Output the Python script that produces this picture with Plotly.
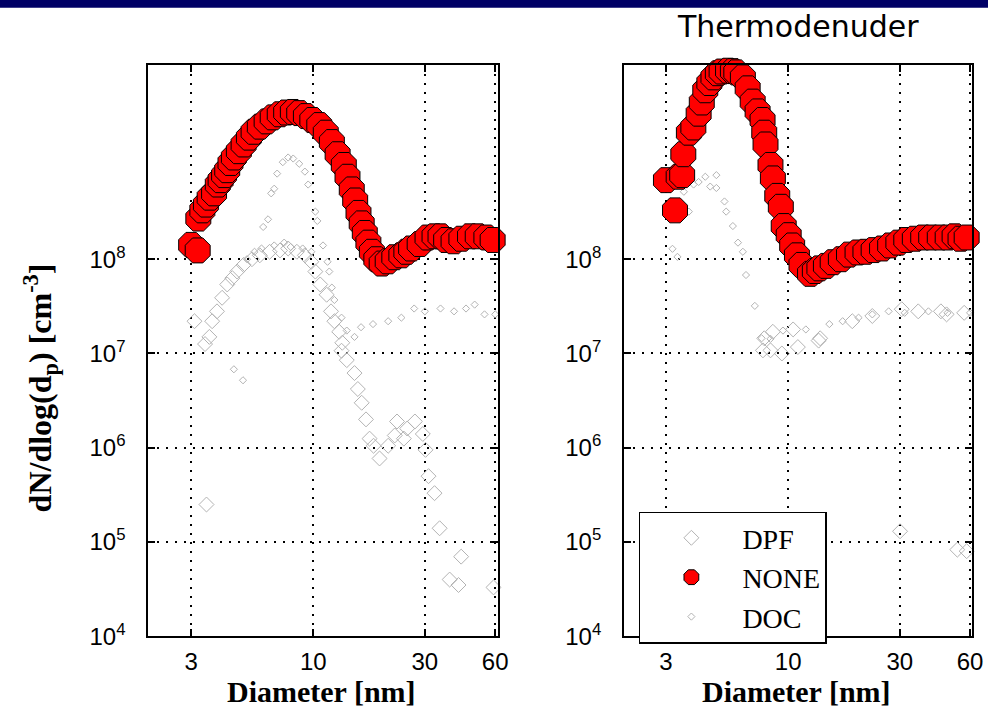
import plotly.graph_objects as go

# ---------------- data ----------------
# Left panel
L_none_d = [3.0, 3.2, 3.22, 3.35, 3.47, 3.6, 3.76, 3.9, 4.01, 4.15, 4.28, 4.42, 4.57, 4.8, 5.03, 5.3, 5.55,
            5.9, 6.31, 6.7, 7.18, 7.65, 8.17, 8.7, 9.29, 9.9, 10.6, 11.3, 12.0, 12.7, 13.5, 14.0, 14.6, 15.1,
            15.6, 16.1, 16.6, 17.2, 17.8, 18.6, 19.6, 20.8, 22.2, 23.8, 25.0, 26.2, 28.5, 30.8, 33.0, 35.0,
            37.0, 39.8, 43.0, 46.8, 50.5, 55.0, 58.5, 62.0]
L_none_n = [1.42e8, 1.24e8, 2.7e8, 3.3e8, 3.8e8, 4.5e8, 5.0e8, 6.2e8, 6.9e8, 7.8e8, 8.8e8, 1.05e9, 1.2e9, 1.4e9,
            1.65e9, 1.95e9, 2.25e9, 2.55e9, 2.9e9, 3.2e9, 3.45e9, 3.6e9, 3.65e9, 3.55e9, 3.3e9, 3.0e9, 2.65e9,
            2.2e9, 1.75e9, 1.3e9, 1.0e9, 7.5e8, 5.5e8, 4.2e8, 3.1e8, 2.4e8, 1.9e8, 1.5e8, 1.2e8, 1.0e8, 9.0e7,
            9.5e7, 1.05e8, 1.1e8, 1.2e8, 1.3e8, 1.45e8, 1.7e8, 1.75e8, 1.75e8, 1.6e8, 1.55e8, 1.65e8, 1.75e8,
            1.75e8, 1.7e8, 1.6e8, 1.55e8]

L_dpf_d = [3.1, 3.59, 3.44, 3.69, 3.87, 4.07, 4.28, 4.5, 4.72, 5.03, 5.46, 5.9, 6.5, 7.2, 7.8, 8.5, 9.2, 9.8,
           10.2, 10.7, 11.4, 11.9, 12.3, 12.9, 13.3, 13.2, 13.9, 15.0, 15.5, 16.1, 16.8, 17.4, 18.1, 19.2,
           20.9, 22.3, 22.8, 24.4, 25.2, 27.2, 29.4, 30.2, 31.1, 33.0, 34.7, 38.3, 41.8, 42.9, 59.0, 62.0, 3.49]
L_dpf_n = [2.2e7, 1.5e7, 1.26e7, 2.2e7, 2.8e7, 3.9e7, 5.4e7, 6.3e7, 7.4e7, 8.7e7, 1.0e8, 1.1e8, 1.2e8, 1.24e8,
           1.3e8, 1.2e8, 1.1e8, 9.4e7, 7.4e7, 5.4e7, 4.2e7, 2.8e7, 2.2e7, 1.7e7, 1.3e7, 1.07e7, 8.5e6, 6.2e6,
           4.2e6, 3.0e6, 2.0e6, 1.25e6, 1.05e6, 7.7e5, 1.05e6, 1.35e6, 1.9e6, 1.25e6, 1.6e6, 1.9e6, 1.4e6,
           9.5e5, 5.0e5, 3.3e5, 1.4e5, 4.0e4, 3.5e4, 7.0e4, 3.3e4, 3.0e4, 2.5e5]

L_doc_d = [4.57, 5.0, 5.2, 5.6, 6.0, 6.8, 7.5, 8.0, 9.0, 9.8, 6.1, 6.4, 6.6, 6.8, 7.0, 7.4, 7.8, 8.2, 8.7, 9.2,
           9.5, 10.2, 10.4, 11.0, 11.5, 11.7, 12.0, 12.3, 13.2, 13.9, 15.0, 16.0, 18.0, 20.9, 23.8, 27.0,
           30.0, 35.0, 40.0, 45.0, 49.0, 54.0, 60.0]
L_doc_n = [6.8e6, 5.2e6, 1.0e8, 1.2e8, 1.3e8, 1.4e8, 1.5e8, 1.35e8, 1.3e8, 1.2e8, 2.2e8, 2.65e8, 5.0e8, 5.6e8,
           8.1e8, 1.07e9, 1.2e9, 1.17e9, 1.03e9, 8.5e8, 6.2e8, 3.2e8, 2.55e8, 1.4e8, 9.4e7, 7.4e7, 5.0e7,
           3.7e7, 2.4e7, 1.75e7, 1.5e7, 1.9e7, 2.05e7, 2.2e7, 2.4e7, 3.0e7, 2.8e7, 3.0e7, 2.8e7, 3.0e7,
           3.3e7, 2.6e7, 2.6e7]

# Right panel (Thermodenuder)
R_none_d = [3.0, 3.28, 3.4, 3.52, 3.56, 3.76, 3.93, 4.14, 4.27, 4.42, 4.6, 4.79, 5.0, 5.19, 5.53, 5.8, 6.0,
            6.4, 6.71, 7.05, 7.4, 7.77, 7.9, 8.0, 8.4, 8.6, 8.98, 9.3, 9.57, 10.05, 10.4, 10.9, 11.4, 12.4,
            13.0, 13.6, 14.5, 15.5, 16.8, 18.2, 19.8, 21.4, 23.2, 25.2, 27.3, 29.6, 32.0, 34.8, 37.8, 40.9,
            44.5, 48.1, 51.5, 54.6, 58.0, 62.2]
R_none_n = [6.9e8, 3.3e8, 7.5e8, 7.8e8, 1.3e9, 2.2e9, 2.5e9, 3.5e9, 4.6e9, 6.2e9, 7.4e9, 8.5e9, 9.4e9, 9.8e9,
            1.0e10, 9.9e9, 9.6e9, 8.5e9, 6.5e9, 4.7e9, 3.7e9, 3.0e9, 2.2e9, 1.65e9, 1.0e9, 7.2e8, 4.7e8, 3.6e8,
            2.25e8, 1.8e8, 1.4e8, 1.1e8, 8.7e7, 7.0e7, 7.5e7, 8.0e7, 8.5e7, 9.3e7, 1.0e8, 1.12e8, 1.18e8,
            1.2e8, 1.25e8, 1.3e8, 1.4e8, 1.5e8, 1.6e8, 1.65e8, 1.7e8, 1.7e8, 1.7e8, 1.7e8, 1.75e8, 1.65e8,
            1.7e8, 1.5e8]

R_dpf_d = [7.8, 8.4, 9.4, 11.0, 13.5, 7.9, 8.6, 10.5, 13.7, 18.8, 22.9, 30.6, 36.0, 45.0, 47.6, 56.6,
           30.1, 52.9, 58.0]
R_dpf_n = [1.08e7, 1.08e7, 1.0e7, 1.17e7, 1.37e7, 1.45e7, 1.7e7, 1.8e7, 1.45e7, 2.2e7, 2.5e7, 2.95e7, 2.8e7,
           2.8e7, 2.6e7, 2.7e7, 1.3e5, 8.3e4, 8.0e4]

R_doc_d = [3.2, 3.36, 3.47, 3.76, 3.58, 3.94, 4.14, 4.42, 4.64, 4.93, 4.93, 5.34, 5.43, 5.8, 6.1, 6.4, 6.6,
           7.2, 7.7, 8.4, 9.5, 11.9, 15.0, 17.1, 20.0, 22.9, 26.9, 31.5, 39.8, 48.0, 60.0]
R_doc_n = [1.29e8, 1.06e8, 3.4e8, 3.2e8, 5.2e8, 6.2e8, 6.6e8, 7.5e8, 5.9e8, 7.8e8, 5.7e8, 4.1e8, 3.2e8, 2.25e8,
           1.5e8, 1.2e8, 6.8e7, 3.2e7, 1.45e7, 1.43e7, 1.75e7, 1.8e7, 2.05e7, 2.2e7, 2.4e7, 2.6e7, 2.8e7,
           2.7e7, 2.8e7, 2.7e7, 2.7e7]

x_tick_vals = [3, 10, 30, 60]
x_tick_text = ["3", "10", "30", "60"]
y_tick_vals = [1e4, 1e5, 1e6, 1e7, 1e8]
y_tick_text = ["10<sup>4</sup>", "10<sup>5</sup>", "10<sup>6</sup>", "10<sup>7</sup>", "10<sup>8</sup>"]

# ---------------- styles ----------------
GRAY = "rgb(179,179,179)"
RED = "#ff0000"
SERIF = "Liberation Serif, Times New Roman"
SANS = "Liberation Sans, Arial"

fig = go.Figure()

def add_panel(xa, ya, dpf, none, doc, show):
    fig.add_trace(go.Scatter(x=dpf[0], y=dpf[1], mode="markers", name="DPF", legendrank=1,
                             xaxis=xa, yaxis=ya, showlegend=show, cliponaxis=False,
                             marker=dict(symbol="diamond-open", size=11.5, color=GRAY,
                                         line=dict(color=GRAY, width=1))))
    fig.add_trace(go.Scatter(x=doc[0], y=doc[1], mode="markers", name="DOC", legendrank=3,
                             xaxis=xa, yaxis=ya, showlegend=show, cliponaxis=False,
                             marker=dict(symbol="diamond-open", size=5.5, color=GRAY,
                                         line=dict(color=GRAY, width=1))))
    fig.add_trace(go.Scatter(x=none[0], y=none[1], mode="markers", name="NONE", legendrank=2,
                             xaxis=xa, yaxis=ya, showlegend=show, cliponaxis=False,
                             marker=dict(symbol="octagon", size=27, color=RED,
                                         line=dict(color="black", width=1))))

add_panel("x", "y", (L_dpf_d, L_dpf_n), (L_none_d, L_none_n), (L_doc_d, L_doc_n), False)
add_panel("x2", "y2", (R_dpf_d, R_dpf_n), (R_none_d, R_none_n), (R_doc_d, R_doc_n), True)

axis_common = dict(
    type="log", showgrid=True, gridcolor="black", griddash="2px,7px", gridwidth=1.5,
    showline=True, linecolor="black", linewidth=2, mirror="allticks",
    ticks="inside", ticklen=7, tickwidth=1.5, tickcolor="black", zeroline=False,
    tickfont=dict(family=SANS, size=24, color="black"),
)

fig.update_layout(
    width=999, height=720, margin=dict(l=0, r=0, t=0, b=0),
    paper_bgcolor="white", plot_bgcolor="white",
    xaxis=dict(axis_common, domain=[150/999, 504/999], range=[0.294, 1.792], anchor="y",
               tickvals=x_tick_vals, ticktext=x_tick_text, ticklabelstandoff=3),
    yaxis=dict(axis_common, domain=[0.1, 1 - 66/720], range=[4, 10.0625], anchor="x",
               tickvals=y_tick_vals, ticktext=y_tick_text, ticklabelstandoff=16),
    xaxis2=dict(axis_common, domain=[631/999, 983/999], range=[0.298, 1.787], anchor="y2",
                tickvals=x_tick_vals, ticktext=x_tick_text, ticklabelstandoff=3),
    yaxis2=dict(axis_common, domain=[0.1, 1 - 66/720], range=[4, 10.0625], anchor="x2",
                tickvals=y_tick_vals, ticktext=y_tick_text, ticklabelstandoff=16),
    legend=dict(x=646/999, y=1 - 521/720, xanchor="left", yanchor="top",
                bgcolor="white", bordercolor="black", borderwidth=1.5,
                font=dict(family=SERIF, size=28, color="black"),
                itemwidth=92),
    shapes=[dict(type="rect", xref="paper", yref="paper", x0=0, x1=1, y0=1 - 8/720, y1=1,
                 fillcolor="#000066", line=dict(width=0), layer="above")],
    annotations=[
        dict(text="Thermodenuder", xref="paper", yref="paper", x=807/999, y=1 - 27/720,
             xanchor="center", yanchor="middle", showarrow=False,
             font=dict(family="DejaVu Sans", size=30, color="black")),
        dict(text="Diameter [nm]", xref="paper", yref="paper", x=325/999, y=1 - 704/720,
             xanchor="center", yanchor="middle", showarrow=False,
             font=dict(family=SERIF, size=30, color="black", weight="bold")),
        dict(text="Diameter [nm]", xref="paper", yref="paper", x=805/999, y=1 - 704/720,
             xanchor="center", yanchor="middle", showarrow=False,
             font=dict(family=SERIF, size=30, color="black", weight="bold")),
        dict(text="dN/dlog(d<sub>p</sub>) [cm<sup>-3</sup>]", xref="paper", yref="paper",
             x=41/999, y=1 - 395/720, xanchor="center", yanchor="middle", textangle=-90, showarrow=False,
             font=dict(family=SERIF, size=32, color="black", weight="bold")),
    ],
)

fig.write_html("out.html")
